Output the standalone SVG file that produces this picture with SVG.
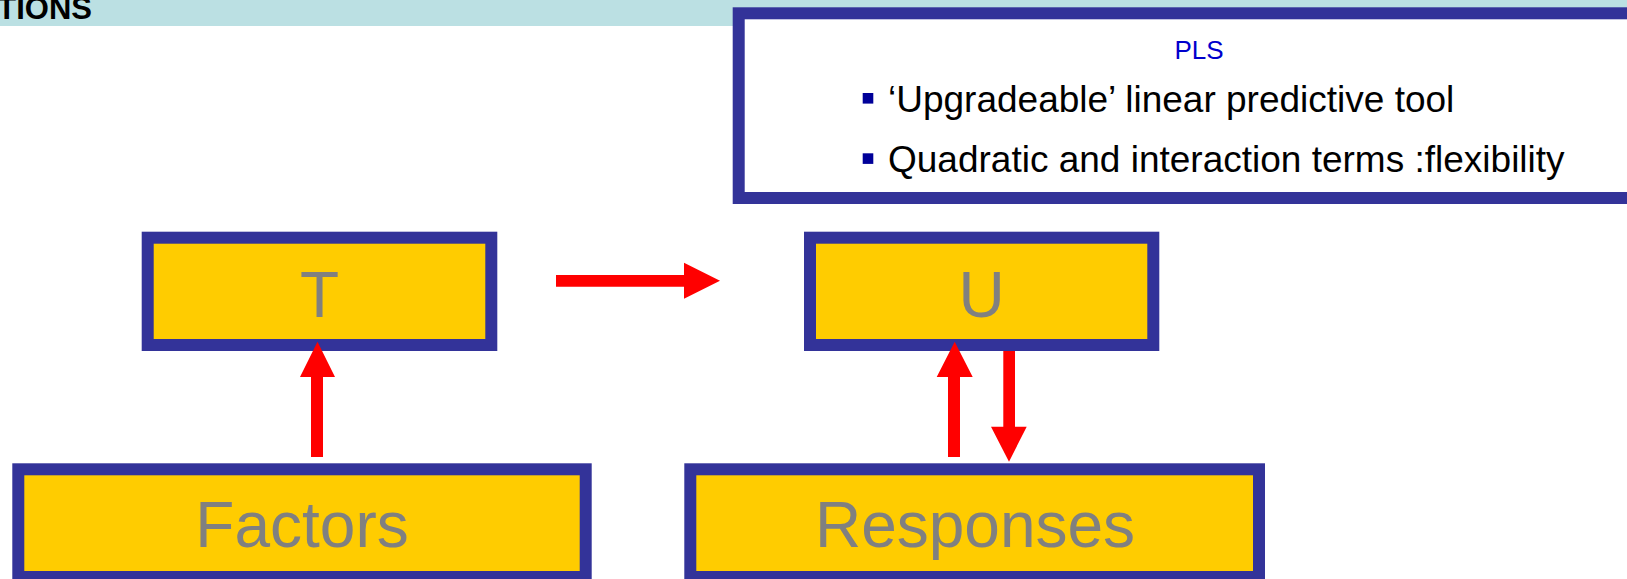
<svg xmlns="http://www.w3.org/2000/svg" width="1627" height="579" viewBox="0 0 1627 579">
  <style>
    .box { fill: #FFCC00; stroke: #333399; stroke-width: 12; }
    .lbl { font-family: "Liberation Sans", Arial, sans-serif; font-size: 64px; fill: #808080; text-anchor: middle; }
    .bullet-text { font-family: "Liberation Sans", Arial, sans-serif; font-size: 37px; fill: #000000; }
    .bullet { fill: #000099; }
    .arrow { fill: #FF0000; }
  </style>

  <rect width="1627" height="579" fill="#FFFFFF"/>

  <!-- title band; heading runs off the top edge -->
  <g id="header">
    <rect x="0" y="0" width="1627" height="26" fill="#BBE0E3"/>
    <text x="92" y="19" font-family="Liberation Sans, Arial, sans-serif" font-size="31" font-weight="bold" fill="#000000" text-anchor="end">TIONS</text>
  </g>

  <!-- PLS note box, runs off the right edge -->
  <g id="pls-box">
    <rect x="738.7" y="13.3" width="1000" height="184.7" fill="#FFFFFF" stroke="#333399" stroke-width="12"/>
    <text x="1199" y="59" font-family="Liberation Sans, Arial, sans-serif" font-size="26" fill="#0000CC" text-anchor="middle">PLS</text>
    <rect class="bullet" x="862.7" y="93" width="10.6" height="10.6"/>
    <text class="bullet-text" x="888" y="112">&#8216;Upgradeable&#8217; linear predictive tool</text>
    <rect class="bullet" x="862.7" y="153.3" width="10.6" height="10.6"/>
    <text class="bullet-text" x="888" y="171.7">Quadratic and interaction terms :flexibility</text>
  </g>

  <g id="node-T">
    <rect class="box" x="147.7" y="237.7" width="343.6" height="107.3"/>
    <text class="lbl" x="319.5" y="316.6">T</text>
  </g>

  <g id="node-U">
    <rect class="box" x="810" y="237.7" width="343.3" height="107.3"/>
    <text class="lbl" x="981.6" y="316.7">U</text>
  </g>

  <g id="node-factors">
    <rect class="box" x="18.3" y="469.3" width="567.4" height="107.7"/>
    <text class="lbl" x="302" y="547.3">Factors</text>
  </g>

  <g id="node-responses">
    <rect class="box" x="690.3" y="469.3" width="568.7" height="107.7"/>
    <text class="lbl" x="975" y="547.3">Responses</text>
  </g>

  <!-- connectors: block arrows -->
  <g id="connectors">
    <polygon class="arrow" points="556,275 684,275 684,262.7 720,280.7 684,298.7 684,286.7 556,286.7"/>
    <polygon class="arrow" points="311,457 311,377 300,377 317.5,341.7 335,377 323,377 323,457"/>
    <polygon class="arrow" points="948,457 948,377 936.7,377 954.7,341.7 972.7,377 960,377 960,457"/>
    <polygon class="arrow" points="1003.3,351 1015,351 1015,426.7 1026.7,426.7 1009,461.7 991,426.7 1003.3,426.7"/>
  </g>
</svg>
